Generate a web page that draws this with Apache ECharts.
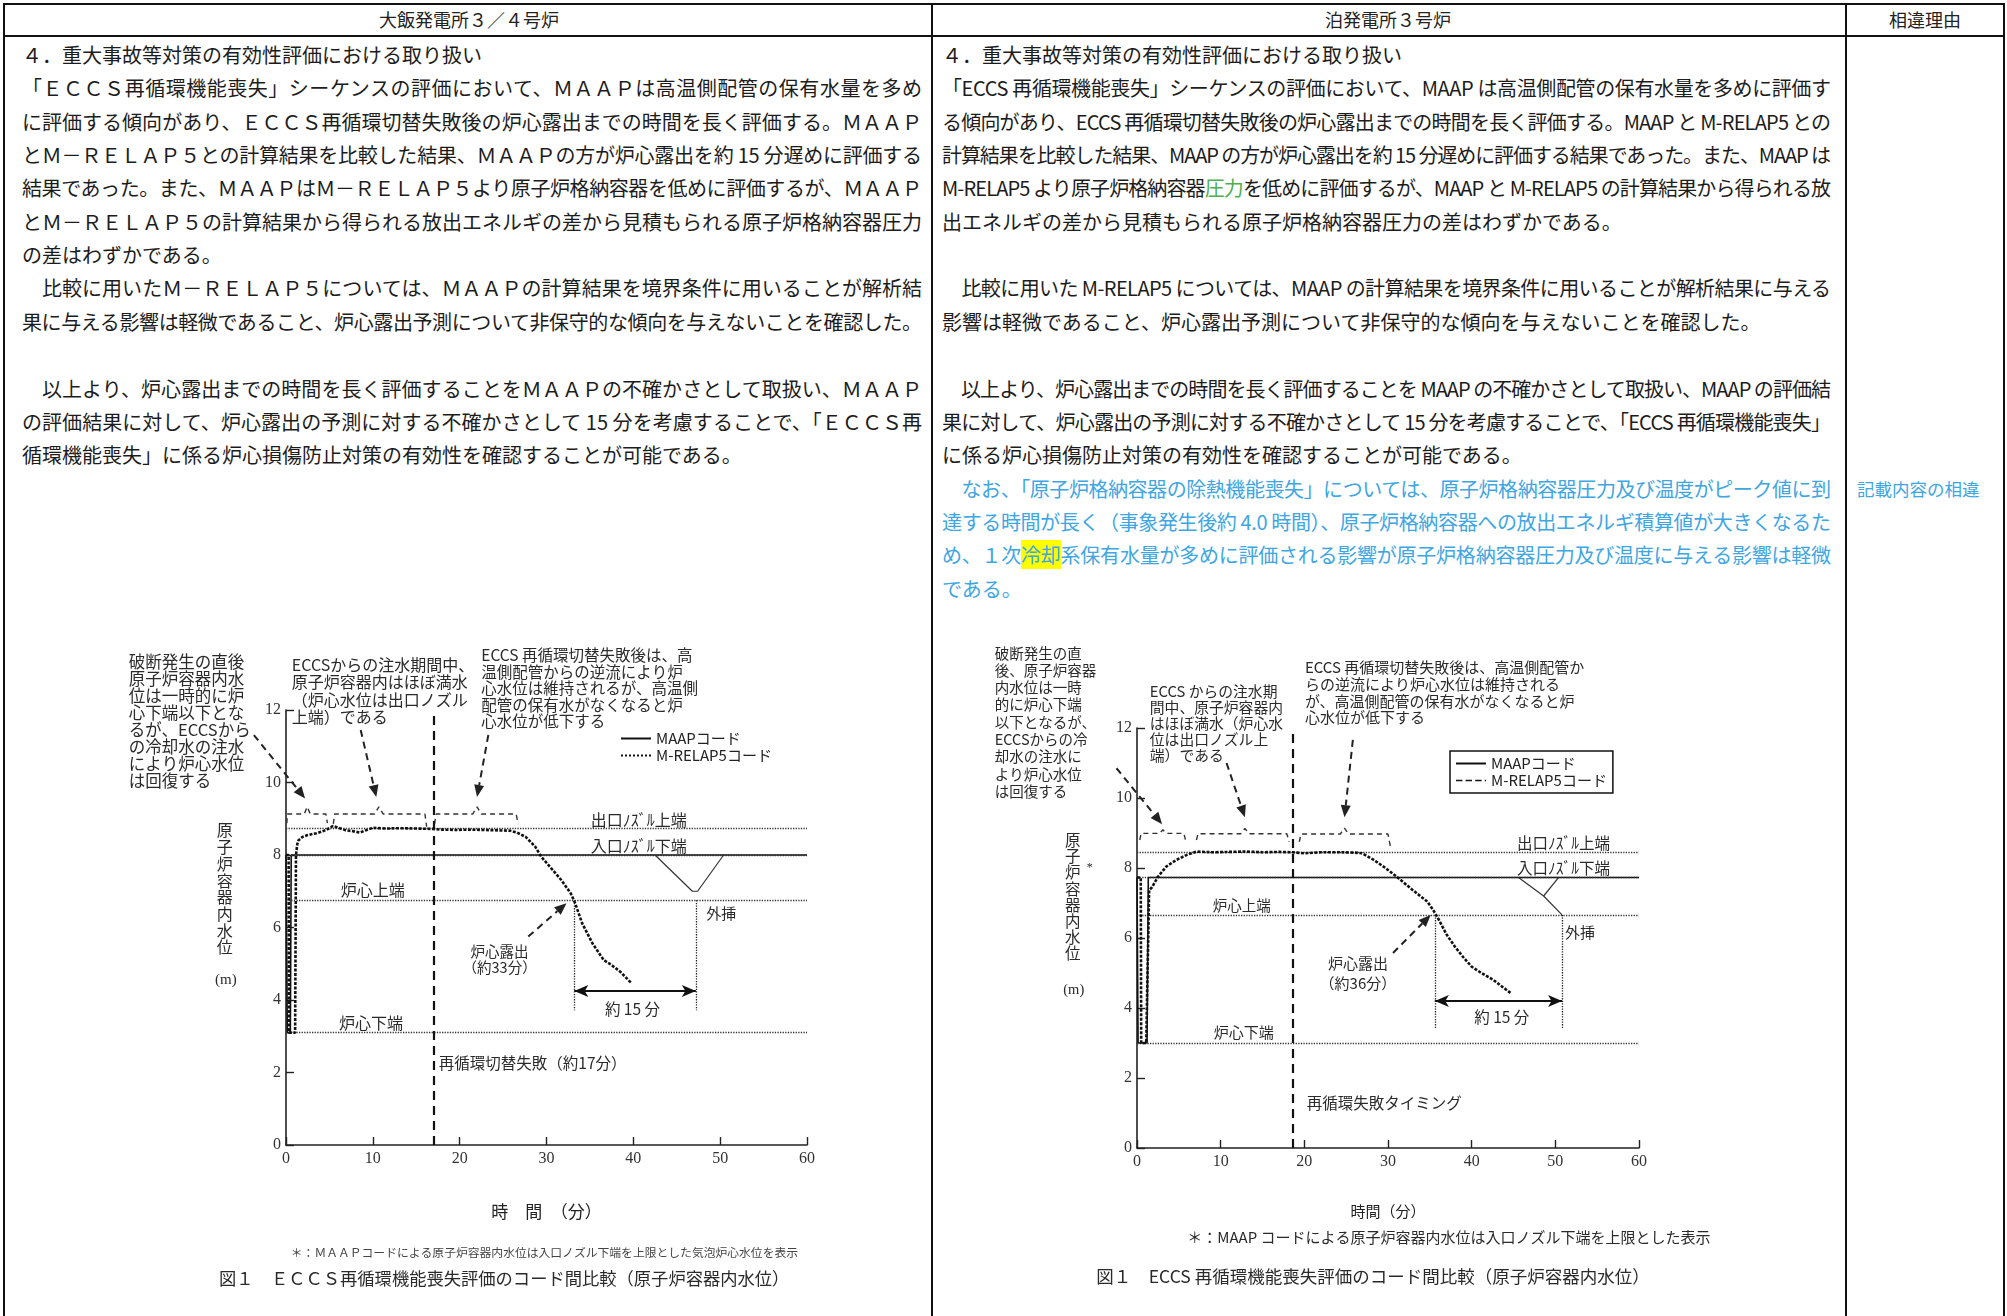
<!DOCTYPE html>
<html lang="ja">
<head>
<meta charset="utf-8">
<script src="https://cdn.jsdelivr.net/npm/echarts@6/dist/echarts.min.js"></script>
<style>
html,body{margin:0;padding:0;}
body{width:2007px;height:1316px;background:#fff;overflow:hidden;position:relative;font-family:"Noto Sans CJK JP";}
.ln{position:absolute;white-space:nowrap;font-size:20px;line-height:24px;color:#1c1c1c;}
.rule{position:absolute;background:#111;}
.hd{position:absolute;font-size:18px;line-height:22px;color:#222;transform:translateX(-50%);white-space:nowrap;}
#chart{position:absolute;left:0;top:0;width:2007px;height:1316px;z-index:2;}
</style>
</head>
<body>
<div id="page"></div>
<div id="chart"></div>
<script>
// ---------------- data ----------------
const timeTicks = [0, 10, 20, 30, 40, 50, 60];
const levelTicks = [0, 2, 4, 6, 8, 10, 12];
const seriesNames = ['MAAPコード', 'M-RELAP5コード'];
const levelNamesOhi = ['出口ﾉｽﾞﾙ上端', '入口ﾉｽﾞﾙ下端', '炉心上端', '炉心下端'];

// 大飯 (left)
const ohiLevels = [8.75, 8.0, 6.75, 3.1];
const ohiFailT = 17.0;
const ohiSpan = [33.2, 47.2];
const ohiSpanY = [4.25, 3.72];
const ohiMaap = [[0,8.0],[0.1,8.0],[0.15,3.1],[0.5,3.1],[0.6,8.0],[60,8.0]];
const ohiRelap = [[0,8.0],[0.3,8.0],[0.35,3.1],[1.05,3.1],[1.15,8.0],[1.3,8.3],[1.45,8.41],[1.9,8.5],[2.5,8.55],[3.5,8.6],[4.3,8.66],[5.0,8.74],[5.4,8.8],[6.2,8.74],[6.9,8.68],[7.6,8.66],[8.5,8.62],[9.3,8.69],[10.0,8.75],[11.5,8.73],[13.1,8.74],[15,8.73],[16.8,8.72],[18,8.7],[19.6,8.69],[21,8.7],[23,8.69],[24.5,8.68],[25.8,8.67],[26.6,8.62],[27.6,8.5],[28.7,8.23],[29.4,7.95],[30.7,7.59],[31.7,7.31],[32.8,6.94],[33.3,6.67],[34.1,6.12],[35.3,5.56],[36.6,5.1],[37.4,4.98],[38.5,4.78],[39.8,4.46]];
const ohiExtrap = [[42.5,8.0],[46.8,7.0],[47.4,7.0],[50.4,8.0]];
const ohiBraces = [
  [[0.1,8.88],[0.15,9.13],[2.1,9.13],[2.45,9.33],[2.8,9.13],[4.6,9.13],[4.77,8.88]],
  [[5.45,8.86],[5.6,9.13],[10.2,9.13],[10.7,9.33],[11.2,9.13],[16.0,9.13],[16.2,8.78]],
  [[17.1,8.86],[17.3,9.13],[21.5,9.13],[22.0,9.33],[22.5,9.13],[26.5,9.13],[26.75,8.85]]
];
const ohiArrows = [[-3.7,11.31,2.2,9.56],[8.6,11.45,10.4,9.6],[23.3,11.31,22.0,9.6],[27.9,5.75,32.3,6.67]];

// 泊 (right)
const tomariLevels = [8.46, 7.73, 6.66, 3.0];
const tomariFailT = 18.6;
const tomariSpan = [35.6, 50.8];
const tomariSpanY = [4.2, 3.43];
const tomariMaap = [[0,7.73],[0.1,7.73],[0.13,3.0],[1.2,3.0],[1.35,7.73],[60,7.73]];
const tomariRelap = [[0,7.73],[0.45,7.73],[0.5,3.0],[1.1,3.0],[1.3,5.5],[1.45,7.37],[1.8,7.45],[2.5,7.75],[3.5,8.04],[4.7,8.23],[5.9,8.37],[7.1,8.47],[9,8.45],[11,8.46],[13,8.47],[15,8.45],[17,8.46],[18.6,8.45],[20,8.42],[22,8.45],[24,8.45],[26,8.44],[26.9,8.42],[28.3,8.23],[29.7,8.0],[31.0,7.76],[32.9,7.38],[34.7,7.04],[35.4,6.8],[36.1,6.51],[37.0,6.1],[38.0,5.75],[39.0,5.45],[40.0,5.18],[41.3,4.98],[42.6,4.8],[43.7,4.6],[44.7,4.42]];
const tomariExtrap = [[45.6,7.73],[48.6,7.2],[50.8,6.66]];
const tomariExtrapArm = [[48.6,7.2],[50.4,7.73]];
const tomariBraces = [
  [[0.33,8.8],[0.5,8.99],[2.7,8.99],[3.1,9.09],[3.5,8.99],[5.6,8.99],[5.9,8.7]],
  [[7.1,8.8],[7.3,8.98],[12.4,8.98],[12.9,9.13],[13.4,8.98],[17.9,8.98],[18.2,8.75]],
  [[19.4,8.75],[19.6,8.97],[24.3,8.97],[24.8,9.14],[25.3,8.97],[30.0,8.97],[30.3,8.6]]
];
const tomariArrows = [[-2.45,10.85,3.0,9.25],[10.7,11.0,12.9,9.45],[25.8,11.66,24.8,9.45],[30.6,5.57,35.1,6.66]];

// ---------------- document text ----------------
const headers = [['大飯発電所３／４号炉', 469], ['泊発電所３号炉', 1388], ['相違理由', 1925]];
const ohiText = [
  ['４．重大事故等対策の有効性評価における取り扱い', 0],
  ['「ＥＣＣＳ再循環機能喪失」シーケンスの評価において、ＭＡＡＰは高温側配管の保有水量を多め', 1],
  ['に評価する傾向があり、ＥＣＣＳ再循環切替失敗後の炉心露出までの時間を長く評価する。ＭＡＡＰ', 1],
  ['とＭ－ＲＥＬＡＰ５との計算結果を比較した結果、ＭＡＡＰの方が炉心露出を約 15 分遅めに評価する', 1],
  ['結果であった。また、ＭＡＡＰはＭ－ＲＥＬＡＰ５より原子炉格納容器を低めに評価するが、ＭＡＡＰ', 1],
  ['とＭ－ＲＥＬＡＰ５の計算結果から得られる放出エネルギの差から見積もられる原子炉格納容器圧力', 1],
  ['の差はわずかである。', 0],
  ['　比較に用いたＭ－ＲＥＬＡＰ５については、ＭＡＡＰの計算結果を境界条件に用いることが解析結', 1],
  ['果に与える影響は軽微であること、炉心露出予測について非保守的な傾向を与えないことを確認した。', 1],
  ['', 0],
  ['　以上より、炉心露出までの時間を長く評価することをＭＡＡＰの不確かさとして取扱い、ＭＡＡＰ', 1],
  ['の評価結果に対して、炉心露出の予測に対する不確かさとして 15 分を考慮することで、「ＥＣＣＳ再', 1],
  ['循環機能喪失」に係る炉心損傷防止対策の有効性を確認することが可能である。', 0]
];
const tomariText = [
  [[['４．重大事故等対策の有効性評価における取り扱い']], 0],
  [[['「ECCS 再循環機能喪失」シーケンスの評価において、MAAP は高温側配管の保有水量を多めに評価す']], 1],
  [[['る傾向があり、ECCS 再循環切替失敗後の炉心露出までの時間を長く評価する。MAAP と M-RELAP5 との']], 1],
  [[['計算結果を比較した結果、MAAP の方が炉心露出を約 15 分遅めに評価する結果であった。また、MAAP は']], 1],
  [[['M-RELAP5 より原子炉格納容器'], ['圧力', 'g'], ['を低めに評価するが、MAAP と M-RELAP5 の計算結果から得られる放']], 1],
  [[['出エネルギの差から見積もられる原子炉格納容器圧力の差はわずかである。']], 0],
  [[['']], 0],
  [[['　比較に用いた M-RELAP5 については、MAAP の計算結果を境界条件に用いることが解析結果に与える']], 1],
  [[['影響は軽微であること、炉心露出予測について非保守的な傾向を与えないことを確認した。']], 0],
  [[['']], 0],
  [[['　以上より、炉心露出までの時間を長く評価することを MAAP の不確かさとして取扱い、MAAP の評価結']], 1],
  [[['果に対して、炉心露出の予測に対する不確かさとして 15 分を考慮することで、「ECCS 再循環機能喪失」']], 1],
  [[['に係る炉心損傷防止対策の有効性を確認することが可能である。']], 0],
  [[['　なお、「原子炉格納容器の除熱機能喪失」については、原子炉格納容器圧力及び温度がピーク値に到', 'b']], 1],
  [[['達する時間が長く（事象発生後約 4.0 時間）、原子炉格納容器への放出エネルギ積算値が大きくなるた', 'b']], 1],
  [[['め、１次', 'b'], ['冷却', 'by'], ['系保有水量が多めに評価される影響が原子炉格納容器圧力及び温度に与える影響は軽微', 'b']], 1],
  [[['である。', 'b']], 0]
];
const reasonText = ['記載内容の相違', 13];

// ---------------- build document ----------------
const page = document.getElementById('page');
function rule(x, y, w, h) { const d = document.createElement('div'); d.className = 'rule'; Object.assign(d.style, {left: x + 'px', top: y + 'px', width: w + 'px', height: h + 'px'}); page.appendChild(d); }
rule(3, 3, 2002, 2); rule(3, 35, 2002, 1.5);
rule(3, 3, 2, 1313); rule(931, 3, 2, 1313); rule(1845, 3, 2, 1313); rule(2003, 3, 2, 1313);
headers.forEach(h => { const d = document.createElement('div'); d.className = 'hd'; d.textContent = h[0]; d.style.left = h[1] + 'px'; d.style.top = '8px'; page.appendChild(d); });
const COLORS = {b: '#3ea6e2', g: '#4cb050'};
function lineTop(k) { return 55 + 33.35 * k - 12; }
function addLine(segs, x, W, k, justify) {
  const d = document.createElement('div'); d.className = 'ln';
  d.style.left = x + 'px'; d.style.top = lineTop(k) + 'px';
  let plain = '';
  segs.forEach(s => {
    const sp = document.createElement('span'); sp.textContent = s[0]; plain += s[0];
    const st = s[1] || '';
    if (st.indexOf('b') >= 0) sp.style.color = COLORS.b;
    if (st.indexOf('g') >= 0) sp.style.color = COLORS.g;
    if (st.indexOf('y') >= 0) sp.style.background = '#ffff00';
    d.appendChild(sp);
  });
  page.appendChild(d);
  if (justify) {
    const w = d.getBoundingClientRect().width;
    const n = Array.from(plain).length;
    d.style.letterSpacing = ((W - w) / (n - 1)) + 'px';
  }
}
ohiText.forEach((l, k) => addLine([[l[0]]], 22, 900, k, l[1]));
tomariText.forEach((l, k) => addLine(l[0], 942, 889, k, l[1]));
(function () { const d = document.createElement('div'); d.className = 'ln'; d.style.fontSize = '17.5px'; d.style.color = COLORS.b; d.style.left = '1857px'; d.style.top = lineTop(reasonText[1]) + 'px'; d.textContent = reasonText[0]; page.appendChild(d); })();

// ---------------- chart ----------------
const CJK = 'Noto Sans CJK JP';
const SERIF = 'Liberation Serif';
const chart = echarts.init(document.getElementById('chart'), null, {renderer: 'canvas'});
const grids = [
  {left: 286, top: 710, width: 521, height: 435},
  {left: 1137, top: 728, width: 502, height: 420}
];
function xAxisFor(g, name, gap) {
  return {gridIndex: g, type: 'value', min: timeTicks[0], max: timeTicks[timeTicks.length - 1], interval: timeTicks[1] - timeTicks[0],
    name: name, nameLocation: 'middle', nameGap: gap, nameTextStyle: {fontFamily: CJK, fontSize: g === 0 ? 17 : 15, color: '#222'},
    axisLine: {lineStyle: {color: '#222', width: 1.6}}, axisTick: {inside: true, length: 8, lineStyle: {color: '#222', width: 1.4}},
    axisLabel: {fontFamily: SERIF, fontSize: 16, color: '#333', margin: 6}, splitLine: {show: false}};
}
function yAxisFor(g) {
  return {gridIndex: g, type: 'value', min: levelTicks[0], max: levelTicks[levelTicks.length - 1], interval: levelTicks[1] - levelTicks[0],
    axisLine: {show: true, lineStyle: {color: '#222', width: 1.6}}, axisTick: {show: true, inside: true, length: 8, lineStyle: {color: '#222', width: 1.4}},
    axisLabel: {fontFamily: SERIF, fontSize: 16, color: '#333', margin: 5}, splitLine: {show: false}};
}
function marks(levels, failT, span, spanY) {
  const vs = {type: 'dotted', color: '#222', width: 1.3};
  const ar = {type: 'solid', color: '#111', width: 2};
  return {silent: true, symbol: 'none', animation: false, label: {show: false},
    lineStyle: {type: 'dotted', color: '#333', width: 1.3},
    emphasis: {disabled: true},
    data: levels.map(v => ({yAxis: v})).concat([
      {xAxis: failT, lineStyle: {type: [9, 6], color: '#111', width: 2.2}},
      [{coord: [span[0], levels[2]], lineStyle: vs}, {coord: [span[0], spanY[1]], lineStyle: vs}],
      [{coord: [span[1], levels[2]], lineStyle: vs}, {coord: [span[1], spanY[1]], lineStyle: vs}],
      [{coord: [span[0], spanY[0]], symbol: 'arrow', symbolSize: [9, 14], lineStyle: ar}, {coord: [span[1], spanY[0]], symbol: 'arrow', symbolSize: [9, 14], lineStyle: ar}]
    ])};
}
function gridSeries(g, maap, relap, levels, failT, span, spanY, braces, extraps) {
  const out = [];
  out.push({name: seriesNames[0], type: 'line', xAxisIndex: g, yAxisIndex: g, data: maap, symbol: 'none', showSymbol: false, z: 4,
    lineStyle: {color: '#111', width: 1.6, type: 'solid'}, itemStyle: {color: '#111'}, markLine: marks(levels, failT, span, spanY)});
  out.push({name: seriesNames[1], type: 'line', xAxisIndex: g, yAxisIndex: g, data: relap, symbol: 'none', showSymbol: false, z: 5,
    lineStyle: {color: '#111', width: 2.6, type: [3, 1.5]}, itemStyle: {color: '#111'}});
  braces.forEach(b => out.push({type: 'line', xAxisIndex: g, yAxisIndex: g, data: b, symbol: 'none', silent: true,
    lineStyle: {color: '#333', width: 1.4, type: [5, 4]}}));
  extraps.forEach(e => out.push({type: 'line', xAxisIndex: g, yAxisIndex: g, data: e, symbol: 'none', silent: true,
    lineStyle: {color: '#333', width: 1.2, type: 'solid'}}));
  return out;
}
const legendText = {fontFamily: CJK, fontSize: 15, color: '#222'};
const legendItem = {opacity: 0, borderWidth: 0};
chart.setOption({
  animation: false,
  backgroundColor: 'transparent',
  grid: grids,
  xAxis: [xAxisFor(0, '時　間　（分）', 58), xAxisFor(1, '時間（分）', 56)],
  yAxis: [yAxisFor(0), yAxisFor(1)],
  legend: [
    {left: 620, top: 731, orient: 'vertical', itemGap: 2, itemWidth: 30, itemHeight: 14, selectedMode: false, padding: 0,
      itemStyle: legendItem,
      data: [seriesNames[0], {name: seriesNames[1], lineStyle: {type: 'dotted', width: 2}}], textStyle: legendText},
    {left: 1450, top: 751, orient: 'vertical', itemGap: 2, itemWidth: 30, itemHeight: 14, selectedMode: false, padding: [5, 6, 5, 5],
      borderColor: '#111', borderWidth: 1.5, itemStyle: legendItem,
      data: [seriesNames[0], {name: seriesNames[1], lineStyle: {type: 'dashed', width: 1.6}}], textStyle: legendText}
  ],
  series: gridSeries(0, ohiMaap, ohiRelap, ohiLevels, ohiFailT, ohiSpan, ohiSpanY, ohiBraces, [ohiExtrap])
    .concat(gridSeries(1, tomariMaap, tomariRelap, tomariLevels, tomariFailT, tomariSpan, tomariSpanY, tomariBraces, [tomariExtrap, tomariExtrapArm]))
});

// ---------------- annotations (placed through the chart's own scales) ----------------
function px(g, t, v) { return chart.convertToPixel({xAxisIndex: g, yAxisIndex: g}, [t, v]); }
const G = [];
function txt(g, t, v, text, size, opt) {
  const p = px(g, t, v);
  G.push({type: 'text', x: p[0], y: p[1], silent: true, z: 10,
    style: Object.assign({text: text, fontSize: size, fontFamily: CJK, fill: '#2a2a2a', align: 'left', verticalAlign: 'top'}, opt || {})});
}
function arrow(g, a) {
  const p1 = px(g, a[0], a[1]), p2 = px(g, a[2], a[3]);
  const dx = p2[0] - p1[0], dy = p2[1] - p1[1], len = Math.hypot(dx, dy), ux = dx / len, uy = dy / len;
  const L = 12, W = 5;
  const bx = p2[0] - ux * L, by = p2[1] - uy * L;
  G.push({type: 'line', silent: true, z: 10, shape: {x1: p1[0], y1: p1[1], x2: bx, y2: by}, style: {stroke: '#222', lineWidth: 2, lineDash: [7, 5]}});
  G.push({type: 'polygon', silent: true, z: 10, shape: {points: [[p2[0], p2[1]], [bx - uy * W, by + ux * W], [bx + uy * W, by - ux * W]]}, style: {fill: '#222'}});
}
ohiArrows.forEach(a => arrow(0, a));
tomariArrows.forEach(a => arrow(1, a));

// left chart texts
txt(0, -18.1, 13.57, '破断発生の直後\n原子炉容器内水\n位は一時的に炉\n心下端以下とな\nるが、ECCSから\nの冷却水の注水\nにより炉心水位\nは回復する', 16.5, {lineHeight: 17});
txt(0, 0.67, 13.49, 'ECCSからの注水期間中、\n原子炉容器内はほぼ満水\n（炉心水位は出口ノズル\n上端）である', 16, {lineHeight: 17.5});
txt(0, 22.49, 13.73, 'ECCS 再循環切替失敗後は、高\n温側配管からの逆流により炉\n心水位は維持されるが、高温側\n配管の保有水がなくなると炉\n心水位が低下する', 15.5, {lineHeight: 16.4});
txt(0, 35.1, 8.97, levelNamesOhi[0], 16, {verticalAlign: 'middle'});
txt(0, 35.1, 8.25, levelNamesOhi[1], 16, {verticalAlign: 'middle'});
txt(0, 6.3, 7.03, levelNamesOhi[2], 16, {verticalAlign: 'middle'});
txt(0, 6.1, 3.37, levelNamesOhi[3], 16, {verticalAlign: 'middle'});
txt(0, 48.4, 6.4, '外挿', 15, {verticalAlign: 'middle'});
txt(0, 24.6, 5.55, '炉心露出\n（約33分）', 14.5, {align: 'center', lineHeight: 16});
txt(0, 39.9, 3.75, '約 15 分', 15.5, {align: 'center', verticalAlign: 'middle'});
txt(0, 17.6, 2.26, '再循環切替失敗（約17分）', 15.5, {verticalAlign: 'middle'});
txt(0, -7.05, 8.91, '原\n子\n炉\n容\n器\n内\n水\n位', 16, {align: 'center', lineHeight: 16.7});
txt(0, -6.93, 4.55, '(m)', 15, {align: 'center', verticalAlign: 'middle', fontFamily: SERIF});
txt(0, 29.76, -2.97, '＊：ＭＡＡＰコードによる原子炉容器内水位は入口ノズル下端を上限とした気泡炉心水位を表示', 11.8, {align: 'center', verticalAlign: 'middle', fill: '#444'});
txt(0, 25.13, -3.67, '図１　ＥＣＣＳ再循環機能喪失評価のコード間比較（原子炉容器内水位）', 17.3, {align: 'center', verticalAlign: 'middle'});

// right chart texts
txt(1, -17.0, 14.39, '破断発生の直\n後、原子炉容器\n内水位は一時\n的に炉心下端\n以下となるが、\nECCSからの冷\n却水の注水に\nより炉心水位\nは回復する', 14.5, {lineHeight: 17.3});
txt(1, 1.53, 13.29, 'ECCS からの注水期\n間中、原子炉容器内\nはほぼ満水（炉心水\n位は出口ノズル上\n端）である', 14.8, {lineHeight: 16.2});
txt(1, 20.07, 13.97, 'ECCS 再循環切替失敗後は、高温側配管か\nらの逆流により炉心水位は維持される\nが、高温側配管の保有水がなくなると炉\n心水位が低下する', 15, {lineHeight: 16.7});
txt(1, 45.41, 8.71, levelNamesOhi[0], 15.5, {verticalAlign: 'middle'});
txt(1, 45.41, 8.0, levelNamesOhi[1], 15.5, {verticalAlign: 'middle'});
txt(1, 9.06, 6.94, levelNamesOhi[2], 14.5, {verticalAlign: 'middle'});
txt(1, 9.18, 3.31, levelNamesOhi[3], 15, {verticalAlign: 'middle'});
txt(1, 51.16, 6.17, '外挿', 15, {verticalAlign: 'middle'});
txt(1, 26.4, 5.57, '炉心露出\n（約36分）', 15, {align: 'center', lineHeight: 20});
txt(1, 43.6, 3.74, '約 15 分', 15.5, {align: 'center', verticalAlign: 'middle'});
txt(1, 20.3, 1.29, '再循環失敗タイミング', 15.5, {verticalAlign: 'middle'});
txt(1, -7.68, 9.03, '原\n子\n炉\n容\n器\n内\n水\n位', 15.5, {align: 'center', lineHeight: 16.2});
txt(1, -5.64, 8.0, '*', 12, {align: 'center', verticalAlign: 'middle', fontFamily: SERIF});
txt(1, -7.56, 4.51, '(m)', 14.5, {align: 'center', verticalAlign: 'middle', fontFamily: SERIF});
txt(1, 37.28, -2.56, '＊：MAAP コードによる原子炉容器内水位は入口ノズル下端を上限とした表示', 15, {align: 'center', verticalAlign: 'middle'});
txt(1, 28.2, -3.68, '図１　ECCS 再循環機能喪失評価のコード間比較（原子炉容器内水位）', 17.5, {align: 'center', verticalAlign: 'middle'});

chart.setOption({graphic: G});
</script>
</body>
</html>
